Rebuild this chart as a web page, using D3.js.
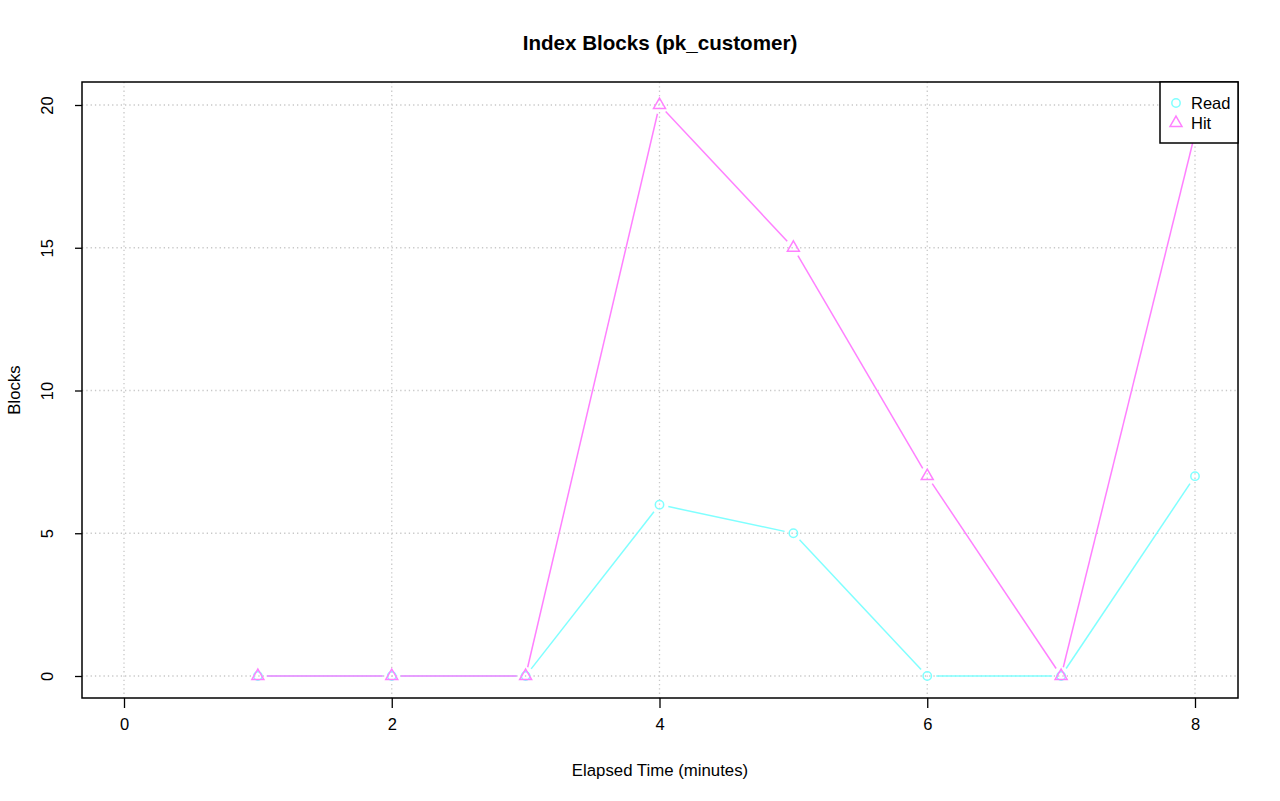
<!DOCTYPE html>
<html>
<head>
<meta charset="utf-8">
<script src="https://cdn.jsdelivr.net/npm/d3@7"></script>
<style>
  body { margin: 0; background: #fff; }
  svg { display: block; font-family: "Liberation Sans", Arial, sans-serif; }
</style>
</head>
<body>
<div id="main-chart"></div>
<script>
var minutes = [1, 2, 3, 4, 5, 6, 7, 8];
var readBlocks = [0, 0, 0, 6, 5, 0, 0, 7];
var hitBlocks = [0, 0, 0, 20, 15, 7, 0, 19];
var xTicks = [0, 2, 4, 6, 8];
var yTicks = [0, 5, 10, 15, 20];
var seriesNames = ["Read", "Hit"];
var seriesColors = ["#80ffff", "#ff80ff"];

var width = 1280, height = 801;
var box = { left: 82, right: 1238, top: 82, bottom: 698 };

var svg = d3.select("#main-chart")
  .append("svg")
  .attr("width", width)
  .attr("height", height);

var x = d3.scaleLinear().domain([0, 8]).range([124, 1195]);
var y = d3.scaleLinear().domain([0, 20]).range([676, 105]);

// grid
var grid = svg.append("g").attr("class", "grid")
  .attr("stroke", "#c8c8c8")
  .attr("stroke-dasharray", "1.3,3")
  .attr("stroke-width", 1.3);
grid.selectAll("line.v").data(xTicks).enter().append("line")
  .attr("x1", d => x(d)).attr("x2", d => x(d))
  .attr("y1", box.top).attr("y2", box.bottom);
grid.selectAll("line.h").data(yTicks).enter().append("line")
  .attr("y1", d => y(d)).attr("y2", d => y(d))
  .attr("x1", box.left).attr("x2", box.right);

// axes
var xAxis = svg.append("g")
  .attr("transform", "translate(0," + box.bottom + ")")
  .call(d3.axisBottom(x).tickValues(xTicks).tickSize(10).tickPadding(14).tickSizeOuter(0));
var yAxis = svg.append("g")
  .attr("transform", "translate(" + box.left + ",0)")
  .call(d3.axisLeft(y).tickValues(yTicks).tickSize(7).tickPadding(20).tickSizeOuter(0));
[xAxis, yAxis].forEach(function(a) {
  a.attr("font-size", 16.5).attr("font-family", "Liberation Sans, Arial, sans-serif");
  a.select(".domain").remove();
  a.selectAll(".tick line").attr("stroke", "#000").attr("stroke-width", 1.3);
  a.selectAll(".tick text").style("font-size", "16.5px").attr("fill", "#000");
});
xAxis.selectAll(".tick text").attr("y", 20).attr("dy", "0.71em");
yAxis.selectAll(".tick text")
  .attr("text-anchor", "middle")
  .attr("x", null)
  .attr("transform", "translate(-35,0) rotate(-90)")
  .attr("dy", "0.35em");

// frame
svg.append("rect")
  .attr("x", box.left).attr("y", box.top)
  .attr("width", box.right - box.left).attr("height", box.bottom - box.top)
  .attr("fill", "none").attr("stroke", "#000").attr("stroke-width", 1.5);

// lines with gaps (type "b")
function drawSeries(values, color, shape) {
  var g = svg.append("g");
  var gap = 9;
  for (var i = 0; i < minutes.length - 1; i++) {
    var x1 = x(minutes[i]), y1 = y(values[i]);
    var x2 = x(minutes[i + 1]), y2 = y(values[i + 1]);
    var len = Math.hypot(x2 - x1, y2 - y1);
    if (len <= 2 * gap) continue;
    var ux = (x2 - x1) / len, uy = (y2 - y1) / len;
    g.append("line")
      .attr("x1", x1 + ux * gap).attr("y1", y1 + uy * gap)
      .attr("x2", x2 - ux * gap).attr("y2", y2 - uy * gap)
      .attr("stroke", color).attr("stroke-width", 1.5);
  }
  g.selectAll("path.pt").data(values).enter().append("path")
    .attr("d", d3.symbol().type(shape).size(shape === d3.symbolCircle ? 55 : 62))
    .attr("transform", (d, i) => "translate(" + x(minutes[i]) + "," + y(d) + ")")
    .attr("fill", "none").attr("stroke", color).attr("stroke-width", 1.5);
}
drawSeries(readBlocks, seriesColors[0], d3.symbolCircle);
drawSeries(hitBlocks, seriesColors[1], d3.symbolTriangle);

// legend
var legend = svg.append("g");
legend.append("rect")
  .attr("x", 1160).attr("y", box.top)
  .attr("width", box.right - 1160).attr("height", 61)
  .attr("fill", "#fff").attr("stroke", "#000").attr("stroke-width", 1.5);
var legendShapes = [d3.symbolCircle, d3.symbolTriangle];
seriesNames.forEach(function(name, i) {
  var ly = 103 + i * 20;
  legend.append("path")
    .attr("d", d3.symbol().type(legendShapes[i]).size(i === 0 ? 55 : 62))
    .attr("transform", "translate(1176," + ly + ")")
    .attr("fill", "none").attr("stroke", seriesColors[i]).attr("stroke-width", 1.5);
  legend.append("text")
    .attr("x", 1191).attr("y", ly).attr("dy", "0.35em")
    .attr("font-size", 16.5).text(name);
});

// titles
svg.append("text")
  .attr("x", (box.left + box.right) / 2).attr("y", 50)
  .attr("text-anchor", "middle").attr("font-size", 20.6).attr("font-weight", "bold")
  .text("Index Blocks (pk_customer)");
svg.append("text")
  .attr("x", (box.left + box.right) / 2).attr("y", 776)
  .attr("text-anchor", "middle").attr("font-size", 16.8)
  .text("Elapsed Time (minutes)");
svg.append("text")
  .attr("transform", "translate(20," + (box.top + box.bottom) / 2 + ") rotate(-90)")
  .attr("text-anchor", "middle").attr("font-size", 16.8)
  .text("Blocks");
</script>
</body>
</html>
